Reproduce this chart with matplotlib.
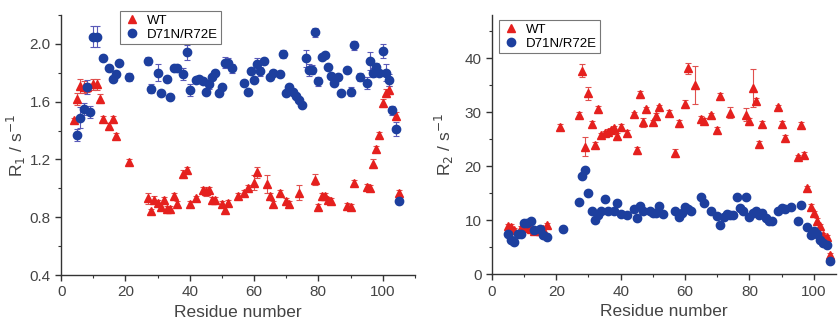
import numpy as np
import matplotlib.pyplot as plt
from matplotlib.ticker import MultipleLocator, FormatStrFormatter

plt.rcParams['font.family'] = ['Liberation Sans', 'DejaVu Sans']

RED = '#e5201e'
BLUE = '#1d3f9e'
RED_ERR = '#e0504e'
BLUE_ERR = '#5a5ab8'

# (residue, R1 [1/s], error)
wt_r1 = [
    (4, 1.47, 0.02), (5, 1.62, 0.04), (6, 1.71, 0.05), (7, 1.70, 0.04), (8, 1.70, 0.03),
    (10, 1.72, 0.04), (11, 1.72, 0.04), (12, 1.62, 0.03), (13, 1.48, 0.02), (15, 1.43, 0.02),
    (16, 1.48, 0.02), (17, 1.36, 0.02), (21, 1.18, 0.02), (27, 0.93, 0.04), (28, 0.84, 0.02),
    (29, 0.92, 0.03), (30, 0.90, 0.02), (31, 0.87, 0.02), (32, 0.92, 0.02), (33, 0.86, 0.02),
    (34, 0.86, 0.02), (35, 0.95, 0.02), (36, 0.89, 0.02), (38, 1.10, 0.03), (39, 1.13, 0.02),
    (40, 0.89, 0.02), (42, 0.93, 0.02), (44, 0.99, 0.02), (45, 0.98, 0.03), (46, 0.99, 0.02),
    (47, 0.92, 0.02), (48, 0.92, 0.02), (50, 0.89, 0.02), (51, 0.85, 0.02), (52, 0.90, 0.02),
    (55, 0.95, 0.02), (57, 0.97, 0.02), (58, 1.00, 0.02), (60, 1.04, 0.05), (61, 1.11, 0.04),
    (64, 1.03, 0.06), (65, 0.95, 0.02), (66, 0.89, 0.02), (68, 0.97, 0.02), (70, 0.91, 0.02),
    (71, 0.89, 0.02), (74, 0.97, 0.05), (79, 1.06, 0.04), (80, 0.87, 0.02), (81, 0.95, 0.02),
    (82, 0.95, 0.02), (83, 0.92, 0.02), (84, 0.91, 0.02), (89, 0.88, 0.02), (90, 0.87, 0.02),
    (91, 1.04, 0.02), (95, 1.01, 0.02), (96, 1.00, 0.02), (97, 1.17, 0.03), (98, 1.27, 0.02),
    (99, 1.37, 0.02), (100, 1.59, 0.03), (101, 1.66, 0.03), (102, 1.68, 0.03), (104, 1.50, 0.03),
    (105, 0.97, 0.02),
]

mut_r1 = [
    (5, 1.37, 0.04), (6, 1.49, 0.07), (7, 1.55, 0.04), (8, 1.70, 0.05), (9, 1.53, 0.04),
    (10, 2.05, 0.07), (11, 2.05, 0.07), (13, 1.90, 0.02), (15, 1.83, 0.02), (16, 1.76, 0.02),
    (17, 1.79, 0.02), (18, 1.87, 0.02), (21, 1.77, 0.03), (27, 1.88, 0.03), (28, 1.69, 0.03),
    (30, 1.80, 0.06), (31, 1.66, 0.02), (33, 1.76, 0.02), (34, 1.63, 0.02), (35, 1.83, 0.02),
    (36, 1.83, 0.02), (38, 1.79, 0.04), (39, 1.94, 0.05), (40, 1.68, 0.04), (42, 1.75, 0.02),
    (43, 1.76, 0.02), (44, 1.74, 0.02), (45, 1.67, 0.02), (46, 1.72, 0.03), (47, 1.77, 0.02),
    (48, 1.80, 0.02), (49, 1.66, 0.02), (50, 1.70, 0.02), (51, 1.87, 0.04), (52, 1.87, 0.03),
    (53, 1.83, 0.03), (57, 1.73, 0.02), (58, 1.67, 0.02), (59, 1.81, 0.02), (60, 1.75, 0.02),
    (61, 1.86, 0.04), (62, 1.81, 0.03), (63, 1.88, 0.02), (65, 1.77, 0.02), (66, 1.80, 0.02),
    (68, 1.79, 0.02), (69, 1.93, 0.03), (70, 1.66, 0.02), (71, 1.70, 0.02), (72, 1.67, 0.02),
    (73, 1.64, 0.02), (74, 1.61, 0.02), (75, 1.58, 0.02), (76, 1.90, 0.06), (77, 1.82, 0.04),
    (78, 1.82, 0.03), (79, 2.08, 0.03), (80, 1.74, 0.03), (81, 1.91, 0.02), (82, 1.92, 0.02),
    (83, 1.84, 0.02), (84, 1.78, 0.02), (85, 1.73, 0.02), (86, 1.77, 0.02), (87, 1.66, 0.02),
    (89, 1.82, 0.02), (90, 1.67, 0.03), (91, 1.99, 0.03), (93, 1.77, 0.03), (95, 1.73, 0.04),
    (96, 1.88, 0.06), (97, 1.80, 0.03), (98, 1.84, 0.03), (99, 1.80, 0.02), (100, 1.95, 0.05),
    (101, 1.80, 0.06), (102, 1.75, 0.04), (103, 1.54, 0.03), (104, 1.41, 0.05), (105, 0.91, 0.02),
]

# (residue, R2 [1/s], error)
wt_r2 = [
    (5, 8.9, 0.4), (6, 8.8, 0.4), (7, 8.2, 0.4), (9, 8.5, 0.4), (10, 8.8, 0.4),
    (11, 8.6, 0.4), (12, 8.3, 0.4), (13, 7.9, 0.4), (15, 7.9, 0.4), (16, 8.3, 0.4),
    (17, 9.1, 0.4), (21, 27.3, 0.5), (27, 29.5, 0.6), (28, 37.7, 1.2), (29, 23.6, 1.8),
    (30, 33.5, 1.2), (31, 27.8, 0.5), (32, 23.9, 0.5), (33, 30.5, 0.6), (34, 25.8, 0.4),
    (35, 26.1, 0.4), (36, 26.4, 0.4), (37, 26.6, 0.4), (38, 27.0, 0.4), (39, 25.5, 0.6),
    (40, 27.3, 0.5), (42, 26.2, 0.5), (44, 29.6, 0.5), (45, 22.9, 0.6), (46, 33.3, 0.6),
    (47, 28.1, 0.8), (48, 30.5, 0.5), (50, 28.1, 0.5), (51, 29.3, 0.5), (52, 30.9, 0.5),
    (55, 29.9, 0.5), (57, 22.4, 0.7), (58, 27.9, 0.6), (60, 31.5, 0.8), (61, 38.1, 1.0),
    (63, 35.0, 3.5), (65, 28.7, 0.5), (66, 28.4, 0.5), (68, 29.4, 0.5), (70, 26.7, 0.5),
    (71, 33.0, 0.5), (74, 29.9, 1.0), (79, 29.5, 1.2), (80, 28.3, 0.6), (81, 34.4, 3.5),
    (82, 32.1, 0.6), (83, 24.1, 0.5), (84, 27.8, 0.5), (89, 30.9, 0.5), (90, 27.8, 0.5),
    (91, 25.2, 0.5), (95, 21.6, 0.5), (96, 27.6, 0.5), (97, 22.1, 0.5), (98, 15.9, 0.5),
    (99, 12.5, 0.4), (100, 11.3, 0.4), (101, 9.9, 0.4), (102, 8.9, 0.4), (103, 7.2, 0.4),
    (104, 6.9, 0.4), (105, 3.5, 0.4),
]

mut_r2 = [
    (5, 7.4), (6, 6.3), (7, 5.9), (8, 7.5), (9, 7.4), (10, 9.4), (11, 9.5), (12, 9.8),
    (13, 8.2), (15, 8.4), (16, 7.2), (17, 6.9), (22, 8.4), (27, 13.4), (28, 18.1),
    (29, 19.2), (30, 15.1), (31, 11.7), (32, 10.0), (33, 10.9), (34, 11.7), (35, 13.9),
    (36, 11.7), (38, 11.7), (39, 13.2), (40, 11.1), (42, 10.9), (44, 12.0), (45, 10.3),
    (46, 12.6), (47, 11.7), (49, 11.7), (50, 11.3), (51, 11.3), (52, 12.6), (53, 11.1),
    (57, 11.6), (58, 10.6), (59, 11.4), (60, 12.4), (61, 12.0), (62, 11.7), (65, 14.3),
    (66, 13.2), (68, 11.6), (70, 10.8), (71, 9.1), (72, 10.6), (73, 11.1), (74, 10.9),
    (75, 10.9), (76, 14.3), (77, 12.2), (78, 11.6), (79, 14.2), (80, 10.6), (81, 11.3),
    (82, 11.7), (83, 10.9), (84, 11.3), (85, 10.3), (86, 9.9), (87, 9.9), (89, 11.7),
    (90, 12.2), (91, 12.0), (93, 12.5), (95, 9.9), (96, 12.8), (98, 8.8), (99, 7.2),
    (100, 7.9), (101, 7.4), (102, 6.4), (103, 5.7), (104, 5.4), (105, 2.5),
]


def draw_series(ax, data, color, ecolor, marker, ms, label):
    data = np.array(data)
    x, y = data[:, 0], data[:, 1]
    if data.shape[1] > 2:
        ax.errorbar(x, y, yerr=data[:, 2], fmt='none', ecolor=ecolor,
                    elinewidth=0.8, capsize=2.2, capthick=0.8, zorder=2)
    ax.plot(x, y, marker, color=color, mec=color, ms=ms, ls='none',
            label=label, zorder=3)


def style_axes(ax, xlim, ylim, ymajor, yminor, yfmt, ylabel, ylabel_x):
    ax.set_xlim(*xlim)
    ax.set_ylim(*ylim)
    for side in ['top', 'right']:
        ax.spines[side].set_visible(False)
    for side in ['left', 'bottom']:
        ax.spines[side].set_linewidth(1.0)
        ax.spines[side].set_color('#333333')
    ax.xaxis.set_major_locator(MultipleLocator(20))
    ax.xaxis.set_minor_locator(MultipleLocator(10))
    ax.yaxis.set_major_locator(MultipleLocator(ymajor))
    ax.yaxis.set_minor_locator(MultipleLocator(yminor))
    ax.yaxis.set_major_formatter(FormatStrFormatter(yfmt))
    ax.tick_params(which='major', direction='out', length=4, width=1.0,
                   labelsize=11, colors='#333333', labelcolor='#444444')
    ax.tick_params(which='minor', direction='out', length=2.5, width=0.8,
                   colors='#333333')
    ax.set_xlabel('Residue number', fontsize=12.5, color='#444444', labelpad=4)
    ax.set_ylabel(ylabel, fontsize=12.5, color='#444444')
    ax.yaxis.set_label_coords(ylabel_x, 0.5)


def add_legend(ax, x0, y0):
    leg = ax.legend(loc='upper left', bbox_to_anchor=(x0 / 838, 1 - y0 / 324),
                    bbox_transform=fig.transFigure, fontsize=9.5, frameon=True,
                    fancybox=False, borderpad=0.25, handletextpad=0.5,
                    labelspacing=0.15, handlelength=1.3, borderaxespad=0)
    leg.get_frame().set_edgecolor('#555555')
    leg.get_frame().set_linewidth(0.8)
    return leg


fig = plt.figure(figsize=(8.38, 3.24), dpi=100)
ax1 = fig.add_axes([0.073, 0.151, 0.422, 0.803])
ax2 = fig.add_axes([0.587, 0.154, 0.411, 0.800])

# R1 panel
draw_series(ax1, wt_r1, RED, RED_ERR, '^', 6, 'WT')
draw_series(ax1, mut_r1, BLUE, BLUE_ERR, 'o', 6, 'D71N/R72E')
style_axes(ax1, (0, 110), (0.4, 2.2), 0.4, 0.2, '%.1f',
           'R$_1$ / s$^{-1}$', -0.095)
add_legend(ax1, 120, 11)

# R2 panel
draw_series(ax2, wt_r2, RED, RED_ERR, '^', 6, 'WT')
draw_series(ax2, mut_r2, BLUE, BLUE_ERR, 'o', 6, 'D71N/R72E')
style_axes(ax2, (0, 107), (0, 48), 10, 5, '%d',
           'R$_2$ / s$^{-1}$', -0.105)
add_legend(ax2, 499, 20)

fig.savefig('out.png', dpi=100)
